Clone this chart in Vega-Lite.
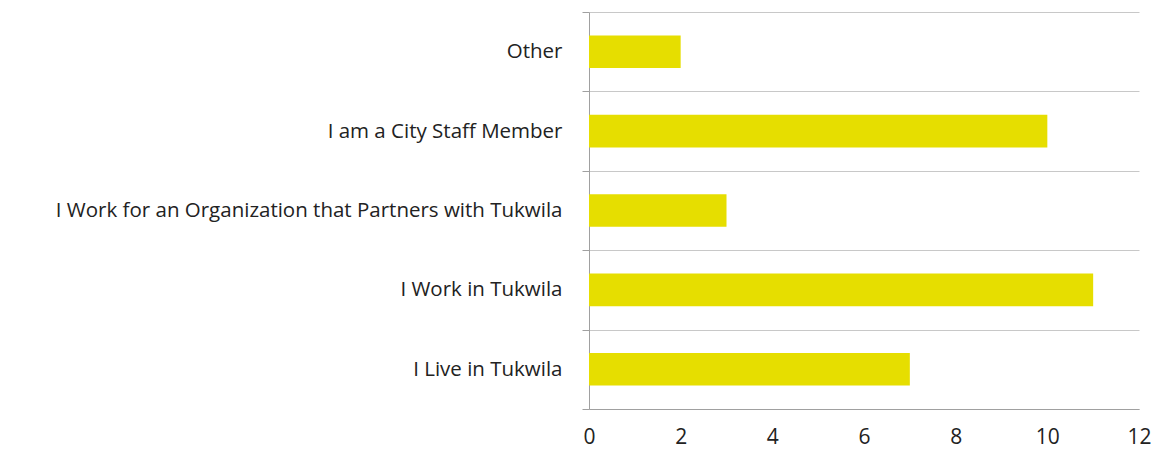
{
  "$schema": "https://vega.github.io/schema/vega-lite/v6.json",
  "autosize": "none",
  "width": 550,
  "height": 397,
  "padding": {"left": 589, "top": 12, "right": 18, "bottom": 46},
  "background": "white",
  "config": {"view": {"stroke": null}, "font": "Open Sans"},
  "data": {
    "values": [
      {"category": "Other", "count": 2},
      {"category": "I am a City Staff Member", "count": 10},
      {"category": "I Work for an Organization that Partners with Tukwila", "count": 3},
      {"category": "I Work in Tukwila", "count": 11},
      {"category": "I Live in Tukwila", "count": 7}
    ]
  },
  "mark": {"type": "bar", "color": "#e6de00", "height": {"band": 0.41}},
  "encoding": {
    "y": {
      "field": "category",
      "type": "nominal",
      "sort": null,
      "scale": {"paddingInner": 0, "paddingOuter": 0},
      "axis": {
        "title": null,
        "tickBand": "extent",
        "grid": true,
        "gridColor": "#c8c8c8",
        "gridWidth": 1,
        "domainColor": "#a0a0a0",
        "tickColor": "#a0a0a0",
        "tickSize": 7,
        "labelPadding": 20,
        "labelFontSize": 20.5,
        "labelColor": "#222222",
        "labelLimit": 600
      }
    },
    "x": {
      "field": "count",
      "type": "quantitative",
      "scale": {"domain": [0, 12]},
      "axis": {
        "title": null,
        "values": [0, 2, 4, 6, 8, 10, 12],
        "grid": false,
        "domainColor": "#a0a0a0",
        "tickColor": "#a0a0a0",
        "tickSize": 0,
        "labelPadding": 17,
        "labelFontSize": 21,
        "labelColor": "#222222",
        "labelFlush": false
      }
    }
  }
}
